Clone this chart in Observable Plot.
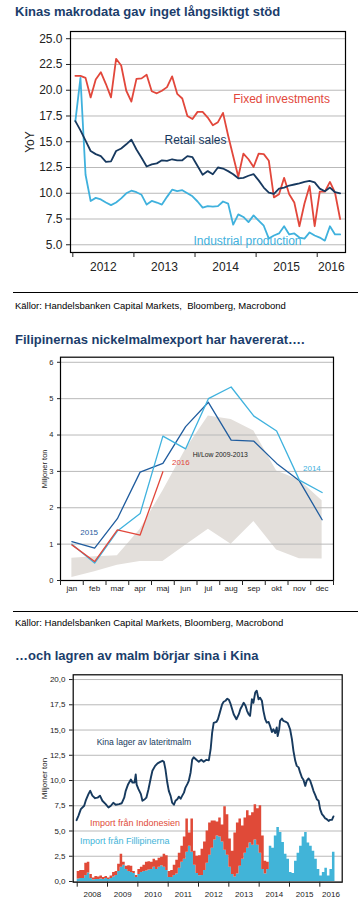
<!DOCTYPE html>
<html><head><meta charset="utf-8">
<script src="https://cdn.jsdelivr.net/npm/d3@7"></script>
<script src="https://cdn.jsdelivr.net/npm/@observablehq/plot@0.6"></script>
<style>
body{margin:0;width:358px;height:904px;position:relative;background:#fff;font-family:"Liberation Sans",Arial,sans-serif;overflow:hidden}
.t{position:absolute;left:15px;font-weight:bold;font-size:13px;line-height:13px;color:#1b3d6b;white-space:nowrap}
.src{position:absolute;left:15px;font-size:9.5px;line-height:9.5px;color:#000;white-space:nowrap}
.sep{position:absolute;left:13px;width:345px;height:0;border-top:1px solid #000}
.p{position:absolute;left:0}
</style></head><body>
<div class="t" style="top:5px">Kinas makrodata gav inget långsiktigt stöd</div>
<div class="p" id="p1" style="top:0px"></div>
<div class="sep" style="top:292px"></div>
<div class="src" style="top:300.5px">Källor: Handelsbanken Capital Markets,&nbsp; Bloomberg, Macrobond</div>
<div class="t" style="top:333px">Filipinernas nickelmalmexport har havererat….</div>
<div class="p" id="p2" style="top:345px"></div>
<div class="sep" style="top:611px"></div>
<div class="src" style="top:618px">Källor: Handelsbanken Capital Markets, Bloomberg, Macrobond</div>
<div class="t" style="top:649px">…och lagren av malm börjar sina i Kina</div>
<div class="p" id="p3" style="top:665px"></div>
<script>
// ================= Panel 1: China macro data (monthly, Jan 2012 – May 2016) =================
const p1StartYear = 2012;
const fixedInvestments = [21.4,21.4,21.2,19.3,21.05,21.75,20.6,19.3,23.05,22.4,
  19.95,18.9,21.1,21.15,21.5,19.9,19.7,19.95,20.3,21.35,
  19.65,19.2,17.5,17.2,17.9,17.9,17.35,16.6,16.9,17.8,
  15.6,13.6,11.6,13.85,13.3,12.55,13.85,13.8,13.15,9.6,
  9.9,11.5,9.9,9.1,6.8,9.0,10.7,6.8,10.15,10.15,
  11.1,10.05,7.5];
const retailSales = [17.0,16.1,15.1,14.1,13.8,13.6,13.05,13.1,14.1,14.35,
  14.75,15.2,14.25,13.45,12.6,12.8,12.9,13.2,13.15,13.3,
  13.2,13.2,13.6,13.5,12.65,11.8,12.15,11.85,12.5,12.4,
  12.15,11.85,11.45,11.5,11.7,11.85,11.25,10.55,10.05,9.95,
  10.45,10.55,10.75,10.85,10.95,11.1,11.2,11.05,10.45,10.2,
  10.55,10.1,10.0];
const industrialProduction = [17.0,21.2,11.8,9.25,9.55,9.4,9.1,8.85,9.1,9.5,
  10.0,10.25,10.1,9.85,8.9,9.25,9.1,8.9,9.65,10.35,
  10.2,10.3,10.0,9.7,9.2,8.6,8.75,8.7,8.75,9.2,
  9.0,6.95,7.95,7.7,7.2,7.85,7.35,6.85,5.6,5.9,
  6.1,6.8,6.0,6.1,5.7,5.6,6.2,5.9,5.7,5.4,
  6.8,6.0,6.0];
const p1YTicks = [5, 7.5, 10, 12.5, 15, 17.5, 20, 22.5, 25];
const p1YearLabels = ["2012", "2013", "2014", "2015", "2016"];

// ================= Panel 2: Philippine nickel ore exports (Miljoner ton) =================
const months = ["jan","feb","mar","apr","maj","jun","jul","aug","sep","okt","nov","dec"];
const hiLowHigh = [0.61,0.65,0.68,1.4,2.46,3.6,4.52,4.43,4.11,3.01,2.76,2.19];
const hiLowLow  = [0.08,0.24,0.42,0.52,0.52,0.97,1.41,1.0,1.62,0.84,0.6,0.59];
const exp2014 = [1.0,0.48,1.36,1.84,3.97,3.62,5.0,5.32,4.52,4.11,2.76,2.42];
const exp2015 = [1.07,0.89,1.70,2.98,3.22,4.23,4.9,3.86,3.83,3.22,2.74,1.67];
const exp2016 = [0.98,0.52,1.39,1.25,2.99];
const p2YTicks = [0, 1, 2, 3, 4, 5, 6];

// ================= Panel 3: China laterite ore stocks and imports =================
const stockDates = [2007.98,2008.04,2008.12,2008.23,2008.28,2008.37,2008.43,2008.50,2008.59,2008.67,2008.75,2008.83,2008.94,
  2009.03,2009.11,2009.19,2009.27,2009.38,2009.47,2009.55,2009.60,2009.68,2009.77,2009.82,2009.89,2009.93,2009.96,
  2010.02,2010.10,2010.15,2010.23,2010.28,2010.35,2010.43,2010.48,2010.57,2010.65,2010.74,2010.81,2010.86,2010.91,2010.97,
  2011.02,2011.08,2011.13,2011.19,2011.24,2011.30,2011.35,2011.41,2011.46,2011.52,2011.57,2011.63,2011.68,2011.74,2011.79,2011.84,2011.93,
  2012.01,2012.09,2012.17,2012.26,2012.34,2012.40,2012.45,2012.50,2012.59,2012.64,2012.70,2012.78,2012.83,2012.89,2012.95,
  2013.00,2013.05,2013.11,2013.16,2013.25,2013.33,2013.38,2013.44,2013.49,2013.55,2013.60,2013.65,2013.70,2013.76,2013.81,2013.87,2013.92,2013.98,
  2014.03,2014.09,2014.14,2014.20,2014.25,2014.31,2014.36,2014.42,2014.47,2014.53,2014.58,2014.61,2014.66,2014.69,2014.75,2014.80,2014.88,2014.94,
  2015.02,2015.08,2015.13,2015.19,2015.24,2015.30,2015.35,2015.41,2015.46,2015.52,2015.57,2015.63,2015.68,2015.74,2015.79,2015.85,2015.90,2015.96,
  2016.01,2016.07,2016.12,2016.18,2016.23,2016.29,2016.34,2016.40,2016.45];
const stockValues = [6.07,6.5,7.16,7.5,8.0,8.65,8.98,8.5,8.25,8.3,8.5,8.0,7.66,
  7.33,7.5,7.8,7.6,7.66,7.75,8.3,8.98,9.64,10.1,9.8,9.8,10.6,9.6,
  9.14,8.65,8.0,8.15,8.3,9.14,10.3,10.96,11.45,11.7,11.85,11.95,11.85,11.1,9.8,
  8.98,8.48,7.82,7.6,8.0,8.15,8.4,8.2,8.48,8.8,9.3,9.64,9.97,10.8,12.05,12.3,12.05,
  11.85,12.05,11.85,12.05,12.0,13.1,14.75,15.7,15.8,16.07,16.7,17.55,17.8,17.9,18.1,
  18.0,17.65,17.06,16.57,16.07,16.57,17.06,17.4,17.7,17.4,16.9,16.57,16.4,18.05,17.7,18.7,18.9,18.05,
  18.2,17.9,16.9,16.07,15.74,15.8,15.4,14.8,15.08,14.7,15.25,14.4,15.08,15.9,16.14,15.9,15.8,15.7,
  15.08,14.1,12.94,11.95,11.45,11.3,10.8,10.3,10.07,9.47,10.0,10.2,10.0,9.47,8.98,8.55,8.15,8.0,
  7.16,6.67,6.5,6.24,6.17,6.0,6.1,6.1,6.44];
// monthly imports, Jan 2008 – Jun 2016
const importStartYear = 2008;
const importPhilippines = [
  0.25,0.3,0.3,0.6,0.85,0.3,0.15,0.2,0.2,0.25,0.2,0.3,
  0.2,0.3,0.45,0.6,1.0,1.4,1.6,1.2,1.0,0.9,0.8,0.4,
  0.7,0.9,1.0,1.05,1.15,1.2,1.4,1.2,1.4,1.55,1.4,1.1,
  0.4,0.4,0.6,0.75,1.3,1.9,2.2,2.9,3.5,2.9,1.6,0.8,
  0.56,0.6,1.1,1.8,2.6,3.3,4.1,4.5,4.4,3.9,3.1,2.6,
  1.4,0.7,0.45,0.75,1.5,2.2,2.8,3.3,3.8,3.6,4.1,3.6,
  2.8,1.2,0.75,1.2,3.5,3.3,4.5,5.35,4.85,3.86,2.7,2.2,
  0.9,0.8,2.0,2.8,3.5,4.4,4.85,3.8,3.5,3.0,2.2,1.2,
  0.55,0.9,1.3,0.55,1.2,2.9];
const importIndonesia = [
  0.75,0.8,0.8,1.2,1.05,0.4,0.2,0.3,0.25,0.3,0.2,0.2,
  0.15,0.25,0.45,0.4,0.7,1.3,0.3,0.3,0.55,0.6,0.2,0.2,
  0.5,0.5,0.6,0.85,0.8,0.7,0.8,0.85,0.9,0.85,1.3,1.45,
  0.6,0.7,1.0,1.35,1.5,1.6,2.2,3.3,1.3,3.3,1.4,1.7,
  2.0,2.6,2.8,3.2,3.2,2.7,1.9,1.4,1.9,1.7,4.3,4.0,
  2.8,2.3,4.35,5.05,4.7,3.3,3.5,3.7,2.7,3.2,3.5,3.6,
  4.7,3.3,1.25,0.7,0,0,0,0,0,0,0,0,
  0,0,0,0,0,0,0,0,0,0,0,0,
  0,0,0,0,0,0];
const p3YTicks = [0, 2.5, 5, 7.5, 10, 12.5, 15, 17.5, 20];
const p3Years = [2008, 2009, 2010, 2011, 2012, 2013, 2014, 2015, 2016];

// ================= helpers =================
const FONT = "Liberation Sans, Arial, sans-serif";
const yearMid = (y, d) => (Math.max(y, d[0]) + Math.min(y + 1, d[1])) / 2;
const monthly = (vals, start) => vals.map((v, i) => ({x: start + (i + 0.5) / 12, y: v}));

// ================= Panel 1 =================
{
  const dom = [2011.962, 2016.463];
  const years = p1YearLabels.map(Number);
  const p = Plot.plot({
    width: 358, height: 280, marginTop: 31, marginBottom: 28, marginLeft: 70, marginRight: 13,
    x: {domain: dom, axis: null},
    y: {domain: [4.25, 25.7], axis: null},
    style: {fontFamily: FONT, fontSize: "12px", color: "#222", background: "transparent", overflow: "visible"},
    marks: [
      Plot.ruleY(p1YTicks, {stroke: "#b9b9b9", strokeWidth: 1}),
      Plot.line(monthly(fixedInvestments, p1StartYear), {x: "x", y: "y", stroke: "#e2473b", strokeWidth: 1.8}),
      Plot.line(monthly(industrialProduction, p1StartYear), {x: "x", y: "y", stroke: "#3fb1dd", strokeWidth: 1.8}),
      Plot.line(monthly(retailSales, p1StartYear), {x: "x", y: "y", stroke: "#17395f", strokeWidth: 1.8}),
      Plot.frame({stroke: "#000", strokeWidth: 1.2}),
      Plot.axisY(p1YTicks, {tickSize: 4, tickPadding: 4, tickFormat: d => d.toFixed(1), fontSize: 12,
        label: "YoY", labelAnchor: "center", labelOffset: 45, labelArrow: "none"}),
      Plot.axisX(years, {tickSize: 5, tickFormat: () => "", label: null}),
      Plot.axisX(years.map(y => yearMid(y, dom)), {tickSize: 0, tickPadding: 9.5, fontSize: 12,
        tickFormat: d => String(Math.floor(d)), label: null}),
      Plot.text([{x: 2015.416, y: 19.1, t: "Fixed investments"}], {x: "x", y: "y", text: "t", fill: "#e2473b", fontSize: 12}),
      Plot.text([{x: 2014.008, y: 15.13, t: "Retail sales"}], {x: "x", y: "y", text: "t", fill: "#17395f", fontSize: 12}),
      Plot.text([{x: 2014.859, y: 5.35, t: "Industrial production"}], {x: "x", y: "y", text: "t", fill: "#3fb1dd", fontSize: 12})
    ]
  });
  document.getElementById("p1").append(p);
}

// ================= Panel 2 =================
{
  const band = months.map((m, i) => ({x: i + 0.5, lo: hiLowLow[i], hi: hiLowHigh[i]}));
  const ser = vals => vals.map((v, i) => ({x: i + 0.5, y: v}));
  const p = Plot.plot({
    width: 358, height: 255, marginTop: 11.7, marginBottom: 20, marginLeft: 60, marginRight: 25,
    x: {domain: [0, 12], axis: null},
    y: {domain: [0, 6.14], axis: null},
    style: {fontFamily: FONT, fontSize: "8px", color: "#222", background: "transparent", overflow: "visible"},
    marks: [
      Plot.areaY(band, {x: "x", y1: "lo", y2: "hi", fill: "#e3dfdb"}),
      Plot.ruleY(p2YTicks.slice(1), {stroke: "#b9b9b9", strokeWidth: 1}),
      Plot.line(ser(exp2015), {x: "x", y: "y", stroke: "#1f5c9e", strokeWidth: 1.3}),
      Plot.line(ser(exp2014), {x: "x", y: "y", stroke: "#3fb2de", strokeWidth: 1.3}),
      Plot.line(ser(exp2016), {x: "x", y: "y", stroke: "#e2473b", strokeWidth: 1.3}),
      Plot.frame({stroke: "#000", strokeWidth: 1.2}),
      Plot.axisY(p2YTicks, {tickSize: 3, tickPadding: 4, fontSize: 7.5,
        label: "Miljoner ton", labelAnchor: "center", labelOffset: 19, labelArrow: "none"}),
      Plot.axisX(d3.range(13), {tickSize: 5, tickFormat: () => "", label: null}),
      Plot.axisX(months.map((m, i) => i + 0.5), {tickSize: 0, tickPadding: 5, fontSize: 8,
        tickFormat: d => months[Math.floor(d)], label: null}),
      Plot.text([{x: 1.26, y: 1.33, t: "2015"}], {x: "x", y: "y", text: "t", fill: "#1f5c9e", fontSize: 8}),
      Plot.text([{x: 5.29, y: 3.24, t: "2016"}], {x: "x", y: "y", text: "t", fill: "#e2473b", fontSize: 8}),
      Plot.text([{x: 11.05, y: 3.09, t: "2014"}], {x: "x", y: "y", text: "t", fill: "#3fb2de", fontSize: 8}),
      Plot.text([{x: 7.02, y: 3.46, t: "Hi/Low 2009-2013"}], {x: "x", y: "y", text: "t", fill: "#222", fontSize: 6.8})
    ]
  });
  document.getElementById("p2").append(p);
}

// ================= Panel 3 =================
{
  const dom = [2007.868, 2016.738];
  const n = importPhilippines.length;
  const rows = [];
  // monthly steps; each series closes its last step at the end of its final month
  const addSeries = (vals, s) => {
    vals.forEach((v, k) => rows.push({x: importStartYear + k / 12, v, s}));
    rows.push({x: importStartYear + n / 12, v: vals[n - 1], s});
  };
  addSeries(importPhilippines, "Fillipinerna");
  addSeries(importIndonesia, "Indonesien");
  const stock = stockDates.map((d, i) => ({x: d, y: stockValues[i]}));
  const p = Plot.plot({
    width: 358, height: 239, marginTop: 9.3, marginBottom: 22.3, marginLeft: 72.7, marginRight: 16.3,
    x: {domain: dom, axis: null},
    y: {domain: [-0.07, 20.47], axis: null},
    color: {domain: ["Fillipinerna", "Indonesien"], range: ["#41b4d8", "#e04a38"]},
    style: {fontFamily: FONT, fontSize: "8px", color: "#222", background: "transparent", overflow: "visible"},
    marks: [
      Plot.ruleY(p3YTicks, {stroke: "#b9b9b9", strokeWidth: 1}),
      Plot.areaY(rows, {x: "x", y: "v", fill: "s", z: "s", curve: "step-after"}),
      Plot.line(stock, {x: "x", y: "y", stroke: "#173a5e", strokeWidth: 1.9}),
      Plot.frame({stroke: "#000", strokeWidth: 1.2}),
      Plot.axisY(p3YTicks, {tickSize: 3.7, tickPadding: 4, fontSize: 8, tickFormat: d => d.toFixed(1).replace(".", ","),
        label: "Miljoner ton", labelAnchor: "center", labelOffset: 32, labelArrow: "none"}),
      Plot.axisX(p3Years, {tickSize: 5, tickFormat: () => "", label: null}),
      Plot.axisX(p3Years.map(y => yearMid(y, dom)), {tickSize: 0, tickPadding: 9.4, fontSize: 8,
        tickFormat: d => String(Math.floor(d)), label: null}),
      Plot.text([{x: 2010.20, y: 13.79, t: "Kina lager av lateritmalm"}], {x: "x", y: "y", text: "t", fill: "#173a5e", fontSize: 8.6}),
      Plot.text([{x: 2009.906, y: 5.81, t: "Import från Indonesien"}], {x: "x", y: "y", text: "t", fill: "#e04a38", fontSize: 9}),
      Plot.text([{x: 2009.566, y: 3.99, t: "Import från Fillipinerna"}], {x: "x", y: "y", text: "t", fill: "#41b4d8", fontSize: 9})
    ]
  });
  document.getElementById("p3").append(p);
}
</script>
</body></html>
